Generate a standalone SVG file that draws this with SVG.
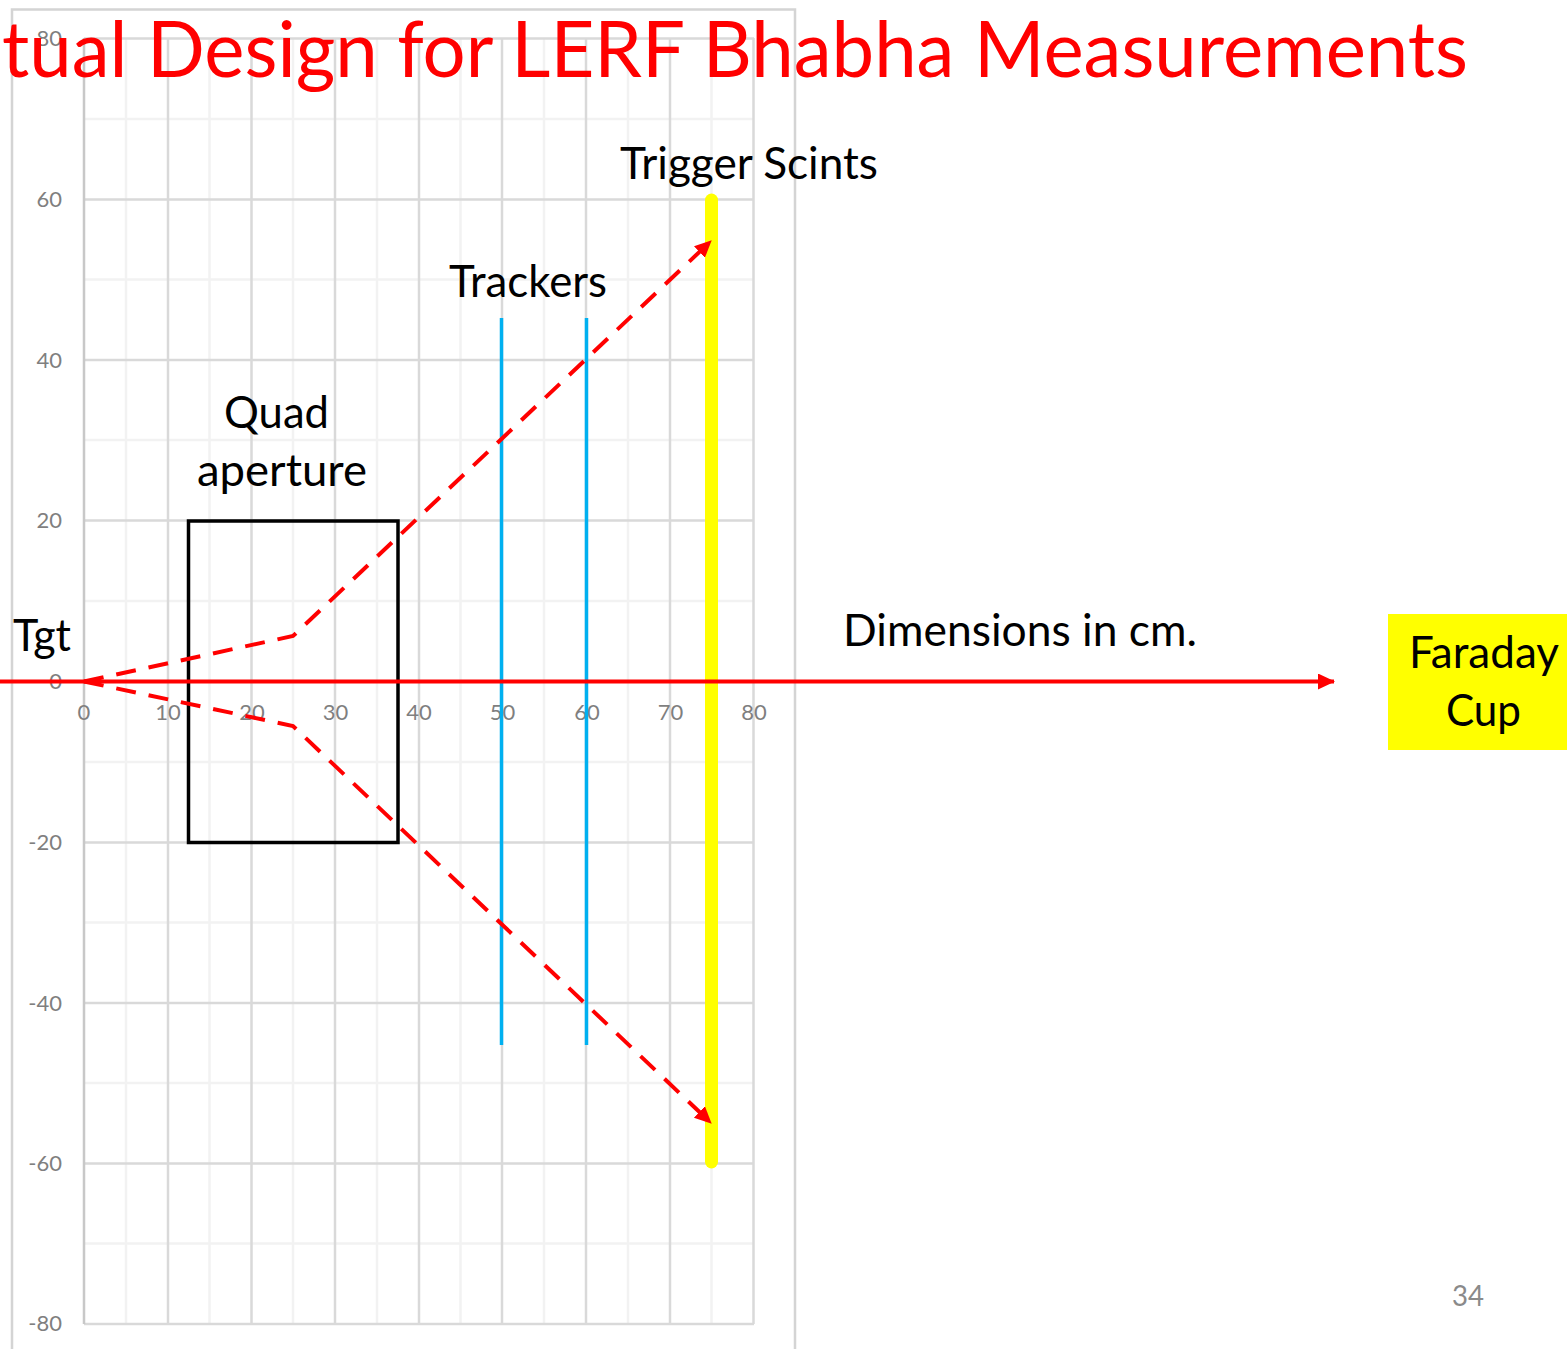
<svg xmlns="http://www.w3.org/2000/svg" width="1567" height="1349" viewBox="0 0 1567 1349">
<style>
.maj{stroke:#d9d9d9;stroke-width:2.5;fill:none}
.min{stroke:#f2f2f2;stroke-width:2.5;fill:none}
.ax{font:22px "Lato","Liberation Sans",sans-serif;fill:#7f7f7f}
.lb{font:44px "Lato","Liberation Sans",sans-serif;fill:#000}
.ray{stroke:#f00;stroke-width:4;fill:none;stroke-dasharray:20 13}
.trk{stroke:#00b0f0;stroke-width:3.5}
</style>
<defs>
<marker id="ah" markerUnits="userSpaceOnUse" markerWidth="18" markerHeight="18" refX="16" refY="8" orient="auto"><path d="M0 0L17 8L0 16Z" fill="#f00"/></marker>
</defs>
<rect width="1567" height="1349" fill="#fff"/>
<g id="chart">
<path class="maj" d="M12 1349V9.500H795V1349" style="stroke:#d4d4d4"/>
<path class="min" d="M126 38V1324M209.500 38V1324M293 38V1324M377 38V1324M460.500 38V1324M544 38V1324M628 38V1324M711.500 38V1324"/>
<path class="min" d="M84 119H754M84 279.500H754M84 440H754M84 601H754M84 762H754M84 922.500H754M84 1083H754M84 1243.500H754"/>
<path class="maj" d="M84 38.500H754M84 199.500H754M84 360H754M84 520.500H754M84 842.500H754M84 1003H754M84 1163.500H754M84 1324H754"/>
<path class="maj" d="M168 38V1324M251.500 38V1324M335 38V1324M419 38V1324M502 38V1324M586 38V1324M670 38V1324M753.500 38V1324"/>
<path d="M84 38V1324" style="stroke:#c8c8c8;stroke-width:2.500;fill:none"/>
<g class="ax" text-anchor="end">
<text x="62" y="46">80</text><text x="62" y="207">60</text><text x="62" y="368">40</text><text x="62" y="528">20</text><text x="62" y="689">0</text><text x="62" y="850">-20</text><text x="62" y="1011">-40</text><text x="62" y="1171">-60</text><text x="62" y="1331">-80</text>
</g>
<g class="ax" text-anchor="middle">
<text x="84" y="720">0</text><text x="168" y="720">10</text><text x="252" y="720">20</text><text x="335.500" y="720">30</text><text x="419" y="720">40</text><text x="502.500" y="720">50</text><text x="587" y="720">60</text><text x="670.500" y="720">70</text><text x="754" y="720">80</text>
</g>
</g>
<text id="title" x="2" y="77" style="font:78px 'Lato','Liberation Sans',sans-serif;fill:#f00" textLength="1466" lengthAdjust="spacingAndGlyphs">tual Design for LERF Bhabha Measurements</text>
<g id="quad"><rect x="188.500" y="521" width="209.500" height="321.500" fill="none" stroke="#000" stroke-width="3.500"/>
<text class="lb" x="224" y="428" textLength="105" lengthAdjust="spacingAndGlyphs">Quad</text><text class="lb" x="197" y="486" textLength="170" lengthAdjust="spacingAndGlyphs">aperture</text></g>
<g id="trackers"><path class="trk" d="M501.500 318V1045M586.500 318V1045"/>
<text class="lb" x="449" y="297" textLength="158" lengthAdjust="spacingAndGlyphs">Trackers</text></g>
<g id="trigger"><path d="M711.500 200V1162" stroke="#ff0" stroke-width="13" stroke-linecap="round"/>
<text class="lb" x="620" y="179" textLength="258" lengthAdjust="spacingAndGlyphs">Trigger Scints</text></g>
<g id="connectors">
<path d="M0 681.500H1334" stroke="#f00" stroke-width="4" fill="none" marker-end="url(#ah)"/>
<path class="ray" d="M84 681.500L293 636L711 241" marker-end="url(#ah)"/>
<path class="ray" d="M84 681.500L293 726L711 1123" marker-end="url(#ah)"/>
</g>
<g id="target"><text class="lb" x="13" y="651" textLength="58" lengthAdjust="spacingAndGlyphs">Tgt</text></g>
<text id="dims" class="lb" x="843" y="646" textLength="354" lengthAdjust="spacingAndGlyphs">Dimensions in cm.</text>
<g id="faraday"><rect x="1388" y="614" width="179" height="136" fill="#ff0"/>
<text class="lb" x="1409" y="668" textLength="150" lengthAdjust="spacingAndGlyphs">Faraday</text><text class="lb" x="1446" y="726" textLength="75" lengthAdjust="spacingAndGlyphs">Cup</text></g>
<text id="page" x="1452" y="1306" style="font:29px 'Lato','Liberation Sans',sans-serif;fill:#8a8a8a" textLength="32" lengthAdjust="spacingAndGlyphs">34</text>
</svg>
